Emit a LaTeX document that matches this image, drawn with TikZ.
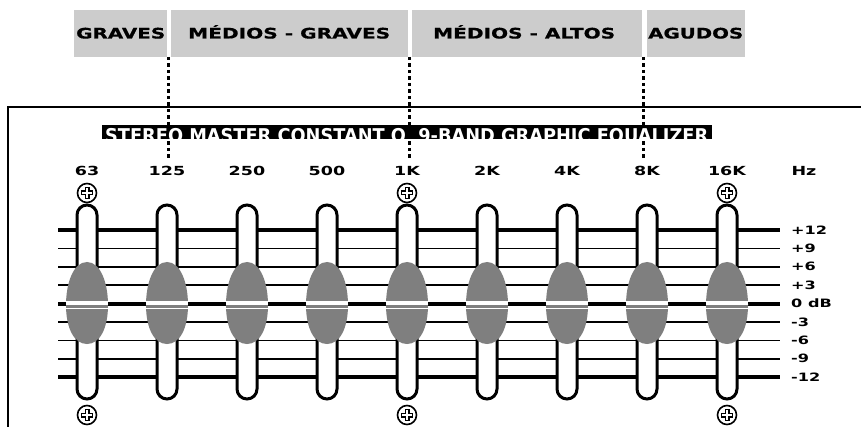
\documentclass[tikz,border=0pt]{standalone}
\usepackage{fontspec}
\setmainfont{DejaVu Sans}
\newfontfamily\lblfont[FakeStretch=1.4]{DejaVu Sans}
\newfontfamily\bandfont[FakeBold=0.6]{DejaVu Sans Bold}
\definecolor{boxgray}{HTML}{CCCCCC}
\definecolor{knobgray}{HTML}{7F7F7F}
\tikzset{
  bandbox/.style={fill=boxgray, draw=none, inner sep=0, anchor=north west, minimum height=47pt},
  bandtxt/.style={anchor=base west, inner sep=0, font=\bandfont\fontsize{14.5}{15}\selectfont},
  divider/.style={line width=3pt, dash pattern=on 3.5pt off 3pt},
  framerule/.style={line width=1.5pt},
  thickscale/.style={line width=4pt},
  thinscale/.style={line width=1.5pt},
  tube/.style={fill=white, draw=black, line width=3pt, rounded corners=10pt},
  knobfill/.style={fill=knobgray},
  freqlbl/.style={inner sep=0, font=\lblfont\fontsize{12.5}{12}\selectfont\bfseries},
  dblbl/.style={anchor=west, inner sep=0, font=\lblfont\fontsize{11.5}{11}\selectfont\bfseries},
  screwring/.style={circle, draw=black, fill=white, line width=1.6pt, minimum size=19pt, inner sep=0},
}
\begin{document}
\begin{tikzpicture}[x=1pt,y=-1pt]
\useasboundingbox (0,0) rectangle (861,427);
\fill[white] (0,0) rectangle (861,427);

% band boxes
\node[bandbox, minimum width=93pt] (bgr) at (74,10) {};
\node[bandbox, minimum width=237pt] (bmg) at (171,10) {};
\node[bandbox, minimum width=230pt] (bma) at (412,10) {};
\node[bandbox, minimum width=98pt] (bag) at (647,10) {};
\node[bandtxt] (tgr) at (76,38.5) {\resizebox{89pt}{\height}{GRAVES}};
\node[bandtxt] (tmg) at (188,38.5) {\resizebox{202pt}{\height}{MÉDIOS - GRAVES}};
\node[bandtxt] (tma) at (433,38.5) {\resizebox{182pt}{\height}{MÉDIOS - ALTOS}};
\node[bandtxt] (tag) at (648,38.5) {\resizebox{95pt}{\height}{AGUDOS}};

% dividers
\coordinate (d1a) at (168.5,57); \coordinate (d1b) at (168.5,158);
\coordinate (d2a) at (409.5,57); \coordinate (d2b) at (409.5,158);
\coordinate (d3a) at (643.5,57); \coordinate (d3b) at (643.5,158);
\draw[divider] (d1a) -- (d1b);
\draw[divider] (d2a) -- (d2b);
\draw[divider] (d3a) -- (d3b);

% frame
\coordinate (fr) at (861,107); \coordinate (fc) at (8,107); \coordinate (fb) at (8,427);
\draw[framerule] (fr) -- (fc) -- (fb);

% title bar
\node[fill=black, inner sep=0, anchor=north west, minimum width=610pt, minimum height=14pt] (title) at (102,125) {};
\begin{scope}
  \clip (title.north west) rectangle (title.south east);
  \node[anchor=base west, inner sep=0, text=white, font=\fontsize{19}{19}\selectfont\bfseries] (ttxt) at (105,142.5)
    {\resizebox{603pt}{\height}{STEREO MASTER CONSTANT Q\ \ 9-BAND GRAPHIC EQUALIZER}};
\end{scope}

% frequency labels
\foreach \f [count=\i from 0] in {63,125,250,500,1K,2K,4K,8K,16K} {
  \pgfmathsetmacro\xx{87+80*\i}
  \node[freqlbl] (f\i) at (\xx,171) {\f};
}
\node[freqlbl] (hz) at (804,171) {Hz};

% scale lines
\foreach \l [count=\j from 0] in {+12,+9,+6,+3,0 dB,-3,-6,-9,-12} {
  \pgfmathsetmacro\yy{230+18.4*\j}
  \coordinate (sl\j) at (58,\yy);
  \coordinate (sr\j) at (780,\yy);
  \ifnum\j=0 \draw[thickscale] (sl\j) -- (sr\j);
  \else\ifnum\j=4 \draw[thickscale] (sl\j) -- (sr\j);
  \else\ifnum\j=8 \draw[thickscale] (sl\j) -- (sr\j);
  \else \draw[thinscale] (sl\j) -- (sr\j);
  \fi\fi\fi
  \node[dblbl] (db\j) at (791,\yy) {\l};
}

% sliders
\foreach \i in {0,...,8} {
  \pgfmathsetmacro\x{87+80*\i}
  \draw[tube] (\x-10,205) rectangle (\x+10,399);
  \def\knobpath{(\x,262) .. controls (\x+14,262) and (\x+21,284) .. (\x+21,305)
     .. controls (\x+21,328) and (\x+13,344) .. (\x,344)
     .. controls (\x-13,344) and (\x-21,328) .. (\x-21,305)
     .. controls (\x-21,284) and (\x-14,262) .. (\x,262) -- cycle}
  \fill[knobgray] \knobpath;
  \begin{scope}
    \clip \knobpath;
    \fill[white] (\x-25,300.5) rectangle (\x+25,305);
    \draw[white, line width=0.8pt] (\x-25,308.5) -- (\x+25,308.5);
  \end{scope}
}

% screws
\foreach \i in {0,4,8} {
  \pgfmathsetmacro\x{87+80*\i}
  \foreach \yy/\nm in {193/t,415/b} {
    \node[screwring] (s\nm\i) at (\x,\yy) {};
    \draw[line width=5pt] (\x-6.2,\yy) -- (\x+6.2,\yy) (\x,\yy-6.2) -- (\x,\yy+6.2);
    \draw[white, line width=2pt] (\x-4.8,\yy) -- (\x+4.8,\yy) (\x,\yy-4.8) -- (\x,\yy+4.8);
  }
}
\end{tikzpicture}
\end{document}
